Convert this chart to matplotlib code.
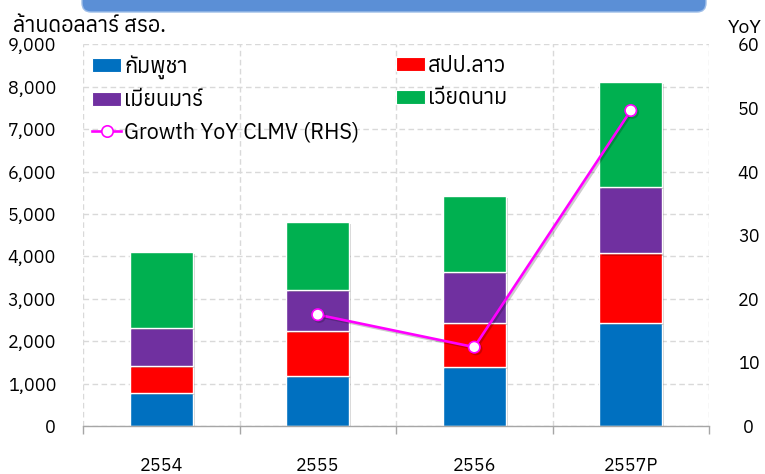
import numpy as np
import matplotlib
matplotlib.use("Agg")
import matplotlib.pyplot as plt
from matplotlib import font_manager as fm
from matplotlib.ft2font import FT2Font
from matplotlib.patches import FancyBboxPatch, Rectangle
from matplotlib.lines import Line2D
from matplotlib.transforms import IdentityTransform
import matplotlib.patheffects as pe

# ---------------- data ----------------
years = ["2554", "2555", "2556", "2557P"]
cambodia = [790, 1180, 1385, 2420]
laos = [635, 1060, 1050, 1650]
myanmar = [880, 970, 1190, 1575]
vietnam = [1795, 1610, 1800, 2475]
growth = [np.nan, 17.5, 12.4, 49.6]

series_names = ["กัมพูชา", "สปป.ลาว", "เมียนมาร์", "เวียดนาม"]
line_name = "Growth YoY CLMV (RHS)"
left_ticks = [0, 1000, 2000, 3000, 4000, 5000, 6000, 7000, 8000, 9000]
left_labels = ["0", "1,000", "2,000", "3,000", "4,000", "5,000", "6,000", "7,000", "8,000", "9,000"]
right_ticks = [0, 10, 20, 30, 40, 50, 60]
left_title = "ล้านดอลลาร์ สรอ."
right_title = "YoY"

# ---------------- fonts ----------------
thai_font = None
preferred = []
for f in fm.fontManager.ttflist:
    try:
        cmap = FT2Font(f.fname).get_charmap()
        if 0x0E01 in cmap and 0x0E49 in cmap and 0x0E21 in cmap:
            preferred.append(f.name)
    except Exception:
        pass
if preferred:
    thai_font = sorted(set(preferred))[0]
families = ([thai_font] if thai_font else []) + ["DejaVu Sans"]
plt.rcParams["font.family"] = families

colors = ["#0070C0", "#FF0000", "#7030A0", "#00B050"]
magenta = "#FF00FF"
grid_c = "#D9D9D9"
FS = 13
FS_TXT = 15.5

fig = plt.figure(figsize=(7.65, 4.74), dpi=100)
ax = fig.add_axes([83 / 765, 1 - 426 / 474, (709 - 83) / 765, (426 - 44.4) / 474])

x = np.arange(len(years))
width = 0.4
bottom = np.zeros(len(years))
shadow = [pe.SimplePatchShadow(offset=(1.5, -1.5), alpha=0.18, shadow_rgbFace="#000000"), pe.Normal()]
handles = []
for vals, c, name in zip([cambodia, laos, myanmar, vietnam], colors, series_names):
    b = ax.bar(x, vals, width, bottom=bottom, color=c, edgecolor="white", linewidth=1.0,
               label=name, zorder=3)
    for r in b:
        r.set_path_effects(shadow)
    bottom = bottom + np.array(vals)
    handles.append(Rectangle((0, 0), 1, 1, facecolor=c, edgecolor="white", linewidth=0.8))

ax.set_xlim(-0.5, len(years) - 0.5)
ax.set_ylim(0, 9000)
ax.set_yticks(left_ticks)
ax.set_yticklabels(left_labels, fontsize=FS)
ax.tick_params(axis="y", length=0, pad=19.4)

ax.set_xticks(np.arange(len(years) + 1) - 0.5)
ax.set_xticklabels([])
ax.set_xticks(x, minor=True)
ax.set_xticklabels(years, minor=True, fontsize=FS)
ax.tick_params(axis="x", which="major", length=5.8, color="#A6A6A6", direction="out", width=1)
ax.tick_params(axis="x", which="minor", length=0, pad=22.5)

for s in ["left", "right", "top"]:
    ax.spines[s].set_visible(False)
ax.spines["bottom"].set_color("#A6A6A6")
ax.spines["bottom"].set_linewidth(1.0)
ax.spines["bottom"].set_zorder(4)

ax.grid(True, which="major", axis="both", color=grid_c, linestyle=(0, (4, 2.5)), linewidth=1.0, zorder=0)
ax.set_axisbelow(True)

ax2 = ax.twinx()
ax2.set_ylim(0, 60)
ax2.set_yticks(right_ticks)
ax2.set_yticklabels([str(t) for t in right_ticks], fontsize=FS, ha="center")
ax2.tick_params(axis="y", length=0, pad=28.5)
for s in ["left", "right", "top", "bottom"]:
    ax2.spines[s].set_visible(False)
ln, = ax2.plot(x, growth, color=magenta, linewidth=1.9, marker="o", markersize=8.2,
               markerfacecolor="white", markeredgecolor=magenta, markeredgewidth=1.2, zorder=5,
               label=line_name)
ln.set_path_effects([pe.SimpleLineShadow(offset=(1.2, -1.2), alpha=0.2), pe.Normal()])

line_handle = Line2D([], [], color=magenta, linewidth=1.9, marker="o", markersize=8.2,
                     markerfacecolor="white", markeredgecolor=magenta, markeredgewidth=1.2)

common = dict(frameon=False, fontsize=FS_TXT, handlelength=1.35, handleheight=0.62, handletextpad=0.15,
              labelspacing=0.48, borderpad=0, borderaxespad=0, loc="upper left")
leg1 = fig.legend([handles[0], handles[2], line_handle], [series_names[0], series_names[2], line_name],
                  bbox_to_anchor=(92 / 765, 1 - 55 / 474), bbox_transform=fig.transFigure, **common)
leg2 = fig.legend([handles[1], handles[3]], [series_names[1], series_names[3]],
                  bbox_to_anchor=(395.5 / 765, 1 - 55 / 474), bbox_transform=fig.transFigure, **common)

fig.text(13 / 765, 1 - 32 / 474, left_title, fontsize=FS_TXT, ha="left", va="baseline")
fig.text(745 / 765, 1 - 33 / 474, right_title, fontsize=14, ha="center", va="baseline")

banner = FancyBboxPatch((82, 462), 624, 30, boxstyle="round,pad=0,rounding_size=9",
                        transform=IdentityTransform(), facecolor="#5B8FD6", edgecolor="#9DBDE8",
                        linewidth=1.0)
fig.add_artist(banner)

fig.savefig("out.png", dpi=100)
